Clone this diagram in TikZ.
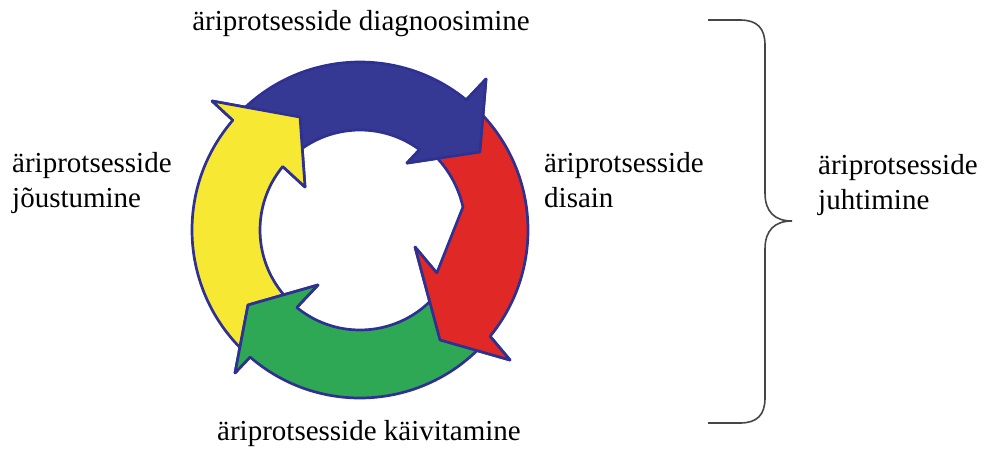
\documentclass[tikz,border=0pt]{standalone}
\usepackage{fontspec}
\setmainfont{Liberation Serif}
\definecolor{ol}{RGB}{46,49,146}
\definecolor{cblue}{RGB}{54,57,148}
\definecolor{cred}{RGB}{224,40,38}
\definecolor{cyellow}{RGB}{247,232,52}
\definecolor{cgreen}{RGB}{46,168,84}
\definecolor{bracegray}{RGB}{70,70,70}
\tikzset{
  arrowbody/.style={draw=ol, line width=2.7pt, line join=round},
  headline/.style={draw=ol, line width=2.7pt, line join=round, line cap=round},
  lbl/.style={font=\fontsize{29}{35}\selectfont, inner sep=0pt, align=left},
  bracestyle/.style={draw=bracegray, line width=1.6pt},
}
\begin{document}
\begin{tikzpicture}[x=1pt,y=1pt]
\useasboundingbox (0,0) rectangle (985,-448);
\begin{scope}[shift={(360,-230)}]
% bodies
\path[arrowbody, fill=cyellow] (228:168pt) arc[start angle=228, end angle=139.2, radius=168pt] -- (138.92:196.3pt) -- (117.97:127.9pt) -- (141.98:69.8pt) -- (140.6:100pt) arc[start angle=140.6, end angle=228, radius=100pt] -- cycle;
\path[arrowbody, fill=cblue] (138:168pt) arc[start angle=138, end angle=50.75, radius=168pt] -- (50.16:196.7pt) -- (33.03:143.1pt) -- (54.95:81.8pt) -- (53.46:100pt) arc[start angle=53.46, end angle=138, radius=100pt] -- cycle;
\path[arrowbody, fill=cred] (48:168pt) arc[start angle=48, end angle=-39.25, radius=168pt] -- (-40.91:198.5pt) -- (-53.97:136pt) -- (-17.18:57.6pt) -- (-29.2:88pt) -- (12.6:105.5pt) arc[start angle=12.6, end angle=48, radius=105.5pt] -- cycle;
\path[arrowbody, fill=cgreen] (318:168pt) arc[start angle=318, end angle=229.13, radius=168pt] -- (228.84:189.9pt) -- (213.81:134.8pt) -- (232.63:69.2pt) -- (230.79:100pt) arc[start angle=230.79, end angle=318, radius=100pt] -- cycle;
% heads on top of the following tails
\fill[cyellow] (138.92:196.3pt) -- (117.97:127.9pt) -- (141.98:69.8pt) -- cycle;
\path[headline] (139.2:168pt) -- (138.92:196.3pt) -- (117.97:127.9pt) -- (141.98:69.8pt) -- (140.6:100pt);
\fill[cblue] (50.16:196.7pt) -- (33.03:143.1pt) -- (54.95:81.8pt) -- cycle;
\path[headline] (50.75:168pt) -- (50.16:196.7pt) -- (33.03:143.1pt) -- (54.95:81.8pt) -- (53.46:100pt);
\fill[cred] (-40.91:198.5pt) -- (-53.97:136pt) -- (-17.18:57.6pt) -- cycle;
\path[headline] (-39.25:168pt) -- (-40.91:198.5pt) -- (-53.97:136pt) -- (-17.18:57.6pt) -- (-29.2:88pt);
\fill[cgreen] (228.84:189.9pt) -- (213.81:134.8pt) -- (232.63:69.2pt) -- cycle;
\path[headline] (229.13:168pt) -- (228.84:189.9pt) -- (213.81:134.8pt) -- (232.63:69.2pt) -- (230.79:100pt);
\end{scope}
% labels
\node[lbl, anchor=base] (diag) at (361,-30) {äriprotsesside diagnoosimine};
\node[lbl, anchor=base west] (joust) at (12,-207) {äriprotsesside\\jõustumine};
\node[lbl, anchor=base west] (dis) at (544,-207) {äriprotsesside\\disain};
\node[lbl, anchor=base] (kaiv) at (369,-440) {äriprotsesside käivitamine};
\node[lbl, anchor=base west] (juht) at (818,-209) {äriprotsesside\\juhtimine};
% brace
\coordinate (brtop) at (708,-20);
\coordinate (brbot) at (708,-423);
\coordinate (brtip) at (792,-221);
\draw[bracestyle] (brtop) -- (740,-20) .. controls (757,-20) and (765,-28) .. (765,-45) -- (765,-193) .. controls (765,-212) and (775,-221) .. (brtip) .. controls (775,-221) and (765,-230) .. (765,-249) -- (765,-398) .. controls (765,-415) and (757,-423) .. (740,-423) -- (brbot);
\end{tikzpicture}
\end{document}
